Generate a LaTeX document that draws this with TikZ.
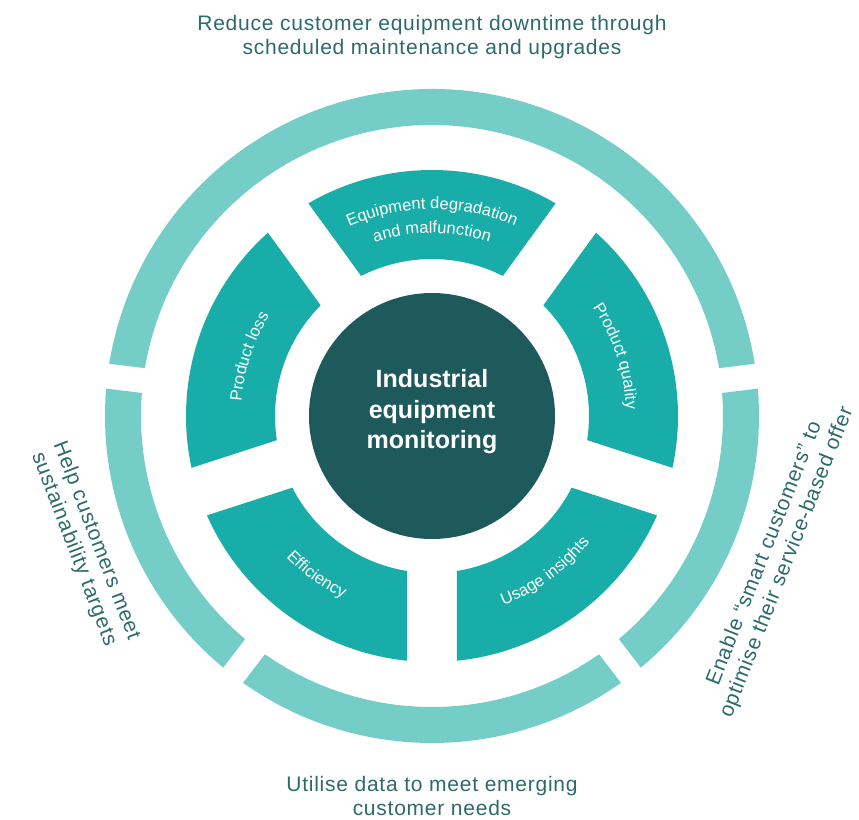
\documentclass[tikz,border=0pt]{standalone}
\usepackage{fontspec}
\setmainfont{Liberation Sans}
\newfontfamily\outerfont[LetterSpace=3.6]{Liberation Sans}
\usetikzlibrary{decorations.text}
\definecolor{ringteal}{HTML}{75CDC8}
\definecolor{segteal}{HTML}{18ADA8}
\definecolor{hubteal}{HTML}{1E5A5C}
\definecolor{labteal}{HTML}{2C6A6B}
\newcommand\seglab{\fontsize{16.5}{18}\selectfont}

\begin{document}
\begin{tikzpicture}[x=1pt,y=1pt,
  ringpiece/.style={fill=ringteal},
  segpiece/.style={fill=segteal},
  hub/.style={circle, fill=hubteal, minimum size=246pt, inner sep=0pt},
  hubtext/.style={text=white, font=\fontsize{25}{30.5}\selectfont\bfseries, align=center, inner sep=0pt},
  goal/.style={text=labteal, font=\outerfont\fontsize{21}{24}\selectfont, align=center, inner sep=0pt},
  cwlabel/.style={decorate, decoration={text along path, text align=center, text color=white}},
]
\useasboundingbox (-432,-403) rectangle (427,416);

% outer ring: four arcs split by parallel gaps
\def\ringIn{291}\def\ringOut{327}
\pgfmathsetmacro\gapO{asin(12.5/\ringOut)}
\pgfmathsetmacro\gapI{asin(12.5/\ringIn)}
\foreach \a/\b in {7/173, 173/232.5, 232.5/307.5, 307.5/367} {
  \pgfmathsetmacro\oa{\a+\gapO}
  \pgfmathsetmacro\ob{\b-\gapO}
  \pgfmathsetmacro\ia{\a+\gapI}
  \pgfmathsetmacro\ib{\b-\gapI}
  \fill[ringpiece] (\oa:\ringOut) arc[start angle=\oa, end angle=\ob, radius=\ringOut]
     -- (\ib:\ringIn) arc[start angle=\ib, end angle=\ia, radius=\ringIn] -- cycle;
}

% five inner segments split by parallel gaps
\def\segIn{157}\def\segOut{246}
\pgfmathsetmacro\sgO{asin(25/\segOut)}
\pgfmathsetmacro\sgI{asin(25/\segIn)}
\foreach \c in {90,162,234,306,18} {
  \pgfmathsetmacro\oa{\c-36+\sgO}
  \pgfmathsetmacro\ob{\c+36-\sgO}
  \pgfmathsetmacro\ia{\c-36+\sgI}
  \pgfmathsetmacro\ib{\c+36-\sgI}
  \fill[segpiece] (\oa:\segOut) arc[start angle=\oa, end angle=\ob, radius=\segOut]
     -- (\ib:\segIn) arc[start angle=\ib, end angle=\ia, radius=\segIn] -- cycle;
}

% segment captions, set along arcs
\path[cwlabel, decoration={text={|\seglab|Equipment degradation}}]
  (130:207) arc[start angle=130, end angle=50, radius=207];
\path[cwlabel, decoration={text={|\seglab|and malfunction}}]
  (130:183) arc[start angle=130, end angle=50, radius=183];
\path[cwlabel, decoration={text={|\seglab|Product loss}}]
  (197:191) arc[start angle=197, end angle=127, radius=191];
\path[cwlabel, decoration={text={|\seglab|Product quality}}]
  (53:194) arc[start angle=53, end angle=-17, radius=194];
\path[cwlabel, decoration={text={|\seglab|Efficiency}}]
  (199:203) arc[start angle=199, end angle=269, radius=203];
\path[cwlabel, decoration={text={|\seglab|Usage insights}}]
  (271:202) arc[start angle=271, end angle=341, radius=202];

% hub
\node[hub] (hub) at (0,0) {};
\node[hubtext] (hubtitle) at (0,4) {Industrial\\equipment\\monitoring};

% goals around the ring
\node[goal] (goalTop) at (0,378.5) {Reduce customer equipment downtime through\\scheduled maintenance and upgrades};
\node[goal] (goalBottom) at (0,-379.5) {Utilise data to meet emerging\\customer needs};
\node[goal, rotate=-69] (goalLeft) at (-347,-129) {Help customers meet\\sustainability targets};
\node[goal, rotate=68.5] (goalRight) at (344,-142) {Enable “smart customers” to\\optimise their service-based offer};
\end{tikzpicture}
\end{document}
